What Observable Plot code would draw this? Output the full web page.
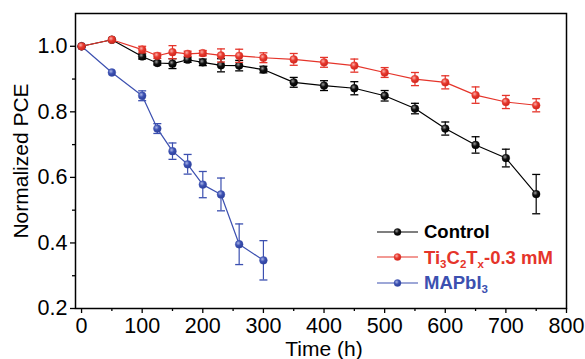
<!DOCTYPE html>
<html><head><meta charset="utf-8">
<script src="https://cdn.jsdelivr.net/npm/d3@7"></script>
<script src="https://cdn.jsdelivr.net/npm/@observablehq/plot@0.6"></script>
<style>
html,body{margin:0;padding:0;background:#fff;}
#wrap{position:relative;width:585px;height:359px;font-family:"Liberation Sans",Arial,sans-serif;}
#legend{position:absolute;left:377px;top:219px;font-weight:bold;font-size:18.5px;line-height:25.5px;}
#legend .row{display:flex;align-items:center;white-space:nowrap;}
#legend svg{margin-right:5px;}
#legend sub{font-size:11.5px;vertical-align:-4px;line-height:0;}
#wrap svg.main text{font-size:21.5px !important;}
#wrap svg.main text.lblx{font-size:21px !important;}
#wrap svg.main text.lbly{font-size:21px !important;}
</style>
</head><body>
<svg width="0" height="0" style="position:absolute">
<defs>
<radialGradient id="gK" cx="0.38" cy="0.35" r="0.7"><stop offset="0" stop-color="#9a9a9a"/><stop offset="0.45" stop-color="#111"/><stop offset="1" stop-color="#000"/></radialGradient>
<radialGradient id="gR" cx="0.38" cy="0.35" r="0.7"><stop offset="0" stop-color="#f9b0aa"/><stop offset="0.45" stop-color="#e83a2f"/><stop offset="1" stop-color="#c8221a"/></radialGradient>
<radialGradient id="gB" cx="0.38" cy="0.35" r="0.7"><stop offset="0" stop-color="#a9b4e6"/><stop offset="0.45" stop-color="#3d52b3"/><stop offset="1" stop-color="#2a3d97"/></radialGradient>
</defs></svg>
<div id="wrap"></div>
<script>
const controlTime = [0,50,100,125,150,175,200,230,260,300,350,400,450,500,550,600,650,700,750];
const controlPCE  = [1.0,1.02,0.969,0.949,0.947,0.959,0.951,0.942,0.941,0.929,0.89,0.88,0.872,0.849,0.81,0.749,0.699,0.659,0.549];
const controlErr  = [0,0,0.008,0.006,0.015,0.008,0.01,0.02,0.016,0.01,0.015,0.015,0.02,0.016,0.016,0.02,0.025,0.027,0.06];

const tiTime = [0,50,100,125,150,175,200,230,260,300,350,400,450,500,550,600,650,700,750];
const tiPCE  = [1.0,1.02,0.99,0.971,0.982,0.977,0.979,0.972,0.971,0.965,0.96,0.951,0.941,0.92,0.9,0.89,0.851,0.83,0.82];
const tiErr  = [0,0,0.01,0.008,0.02,0.008,0.008,0.02,0.02,0.015,0.018,0.015,0.02,0.015,0.02,0.02,0.025,0.02,0.02];

const mapTime = [0,50,100,125,150,175,200,230,260,300];
const mapPCE  = [1.0,0.92,0.849,0.749,0.68,0.64,0.578,0.548,0.396,0.347];
const mapErr  = [0,0,0.015,0.015,0.025,0.03,0.04,0.05,0.062,0.06];

const xMajor = d3.range(0, 801, 100);
const xMinor = d3.range(50, 800, 100);
const yMajor = [0.2,0.4,0.6,0.8,1.0];
const yMinor = [0.3,0.5,0.7,0.9];

const series = [
  {name:"MAPbI3", t:mapTime, v:mapPCE, e:mapErr, color:"#3c50b0", grad:"url(#gB)"},
  {name:"Control", t:controlTime, v:controlPCE, e:controlErr, color:"#000000", grad:"url(#gK)"},
  {name:"Ti3C2Tx", t:tiTime, v:tiPCE, e:tiErr, color:"#e5342a", grad:"url(#gR)"}
];

const cap = {draw(ctx, size){ const r = 4; ctx.moveTo(-r,0); ctx.lineTo(r,0); }};

const marks = [];
for (const s of series) {
  const rows = s.t.map((t,i)=>({t, v:s.v[i], lo:s.v[i]-s.e[i], hi:s.v[i]+s.e[i], e:s.e[i]}));
  const er = rows.filter(d=>d.e>0);
  marks.push(Plot.line(rows,{x:"t",y:"v",stroke:s.color,strokeWidth:1.2}));
  marks.push(Plot.ruleX(er,{x:"t",y1:"lo",y2:"hi",stroke:s.color,strokeWidth:1.2}));
  marks.push(Plot.dot(er,{x:"t",y:"lo",symbol:cap,stroke:s.color,strokeWidth:1.3,fill:"none",r:4}));
  marks.push(Plot.dot(er,{x:"t",y:"hi",symbol:cap,stroke:s.color,strokeWidth:1.3,fill:"none",r:4}));
  marks.push(Plot.dot(rows,{x:"t",y:"v",r:3.9,fill:s.grad,stroke:s.color,strokeWidth:0.4}));
}

const chart = Plot.plot({
  width:585, height:359,
  marginLeft:75, marginRight:19, marginTop:13, marginBottom:51,
  style:{fontFamily:"'Liberation Sans', Arial, sans-serif", fontSize:"20px", color:"#000", background:"#fff", overflow:"visible"},
  x:{domain:[-10,800]},
  y:{domain:[0.2,1.1]},
  marks:[
    Plot.axisX({ticks:xMajor, tickSize:5, tickPadding:4, label:null, strokeWidth:1.3}),
    Plot.axisX({ticks:xMinor, tickSize:3, tickFormat:()=>"", label:null, strokeWidth:1.3}),
    Plot.axisY({ticks:yMajor, tickSize:5, tickPadding:3, tickFormat:d3.format(".1f"), label:null, strokeWidth:1.3}),
    Plot.axisY({ticks:yMinor, tickSize:3, tickFormat:()=>"", label:null, strokeWidth:1.3}),
    ...marks,
    Plot.frame({stroke:"#000", strokeWidth:1.5})
  ]
});
chart.classList.add("main");

const svg = d3.select(chart);
svg.append("text").attr("class","lblx").attr("x",324).attr("y",356).attr("text-anchor","middle")
  .attr("fill","#000").text("Time (h)");
svg.append("text").attr("class","lbly").attr("transform","translate(28,161) rotate(-90)").attr("text-anchor","middle")
  .attr("fill","#000").text("Normalized PCE");

const wrap = document.getElementById("wrap");
wrap.appendChild(chart);

const legendItems = [
  {html:"Control", color:"#000000", grad:"url(#gK)"},
  {html:"Ti<sub>3</sub>C<sub>2</sub>T<sub>x</sub>-0.3 mM", color:"#e5342a", grad:"url(#gR)"},
  {html:"MAPbI<sub>3</sub>", color:"#3c50b0", grad:"url(#gB)"}
];
const lg = document.createElement("div");
lg.id = "legend";
lg.innerHTML = legendItems.map(d=>`<div class="row"><svg width="42" height="12"><line x1="0" x2="41" y1="6" y2="6" stroke="${d.color}" stroke-width="1.2"/><circle cx="20.5" cy="6" r="3.5" fill="${d.grad}" stroke="${d.color}" stroke-width="0.4"/></svg><span style="color:${d.color}">${d.html}</span></div>`).join("");
wrap.appendChild(lg);
</script>
</body></html>
